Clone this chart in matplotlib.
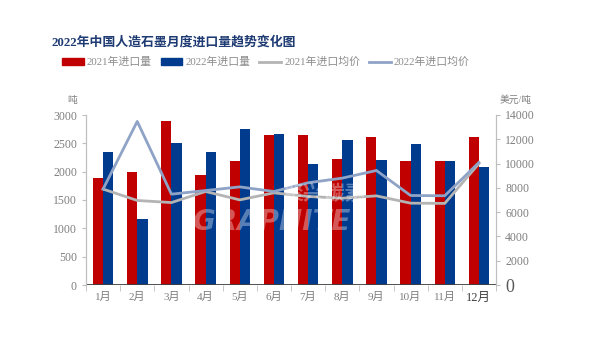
import numpy as np
import matplotlib.pyplot as plt
from matplotlib.patches import Patch
from matplotlib.lines import Line2D

plt.rcParams['font.family'] = ['Liberation Serif', 'Noto Sans CJK SC', 'DejaVu Sans']

months = ['1月', '2月', '3月', '4月', '5月', '6月', '7月', '8月', '9月', '10月', '11月', '12月']
vol_2021 = [1880, 2000, 2900, 1950, 2180, 2640, 2650, 2230, 2620, 2180, 2180, 2620]
vol_2022 = [2340, 1160, 2500, 2340, 2760, 2670, 2140, 2560, 2210, 2480, 2190, 2090]
price_2021 = [7900, 6960, 6790, 7700, 7010, 7590, 7290, 7150, 7340, 6740, 6720, 10000]
price_2022 = [7900, 13470, 7480, 7780, 8080, 7700, 8420, 8800, 9430, 7370, 7350, 10090]

red = '#C00000'
blue = '#003B8E'
gray_line = '#B4B4B4'
blue_line = '#8FA3C6'
txt = '#7F7F7F'

fig = plt.figure(figsize=(5.9, 3.63), dpi=100)
ax = fig.add_axes([86 / 590, 78 / 363, 410 / 590, 170 / 363])
ax2 = ax.twinx()

x = np.arange(len(months))
w = 0.3
ax.bar(x - w / 2, vol_2021, w, color=red, zorder=2)
ax.bar(x + w / 2, vol_2022, w, color=blue, zorder=2)

ax2.plot(x, price_2021, color=gray_line, lw=2, zorder=3)
ax2.plot(x, price_2022, color=blue_line, lw=2, zorder=3)

ax.set_xlim(-0.5, 11.5)
ax.set_ylim(0, 3000)
ax2.set_ylim(0, 14000)
ax.set_yticks(np.arange(0, 3001, 500))
ax2.set_yticks(np.arange(0, 14001, 2000))

# category labels centred, ticks at category boundaries
ax.set_xticks(x)
ax.set_xticklabels(months, fontsize=8, color=txt)
ax.set_xticks(np.arange(-0.5, 12, 1), minor=True)
ax.tick_params(axis='x', which='major', length=0, pad=5)
ax.tick_params(axis='x', which='minor', length=4, color='#BFBFBF')
ax.get_xticklabels()[-1].set_color('#404040')
ax.get_xticklabels()[-1].set_fontsize(9)

ax.tick_params(axis='y', labelsize=8.5, labelcolor=txt, color='#BFBFBF', length=3)
ax2.tick_params(axis='y', labelsize=8.5, labelcolor=txt, color='#BFBFBF', length=3)
ax2.get_yticklabels()[0].set_fontsize(13)
ax2.get_yticklabels()[0].set_color('#595959')

for a in (ax, ax2):
    a.spines['top'].set_visible(False)
    a.spines['left'].set_color('#BFBFBF')
    a.spines['right'].set_color('#BFBFBF')
    a.spines['bottom'].set_visible(False)
ax.axhline(0, color='#404040', lw=2, zorder=4)

fig.text(72 / 590, 1 - 100 / 363, '吨', fontsize=7, color=txt, ha='center', va='center')
fig.text(516 / 590, 1 - 100 / 363, '美元/吨', fontsize=7, color=txt, ha='center', va='center')

# watermark
fig.text(0.46, 1 - 222 / 363, 'GRAPHITE', fontsize=20, fontweight='bold', style='italic',
         color='white', alpha=0.35, ha='center', va='center', family='DejaVu Sans', zorder=5)
fig.text(0.55, 1 - 193 / 363, '聚兴碳素', fontsize=15, fontweight='bold',
         color='white', alpha=0.35, ha='center', va='center', family='Noto Sans CJK SC', zorder=5)

fig.text(52 / 590, 1 - 42 / 363, '2022年中国人造石墨月度进口量趋势变化图', fontsize=9.3,
         fontweight='bold', color='#1F3B73', ha='left', va='center',
         family=['Liberation Serif', 'Noto Sans CJK SC'])

handles = [Patch(color=red), Patch(color=blue),
           Line2D([], [], color=gray_line, lw=2), Line2D([], [], color=blue_line, lw=2)]
labels = ['2021年进口量', '2022年进口量', '2021年进口均价', '2022年进口均价']
leg = fig.legend(handles, labels, loc='center left', bbox_to_anchor=(62 / 590, 1 - 62 / 363),
                 ncol=4, frameon=False, fontsize=7.8, handlelength=2.0, handleheight=0.6,
                 handletextpad=0.3, columnspacing=0.8, borderaxespad=0, borderpad=0)
for t in leg.get_texts():
    t.set_color('#8C8C8C')

fig.savefig('out.png', dpi=100)
